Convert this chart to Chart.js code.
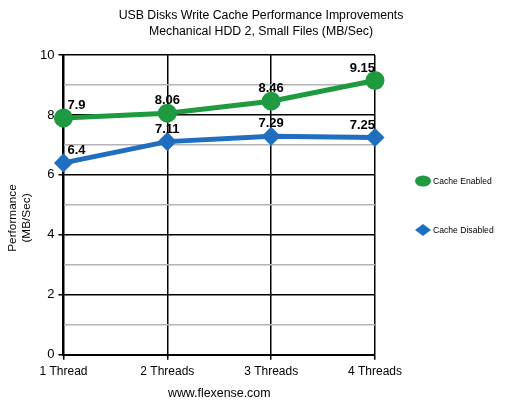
<!DOCTYPE html>
<html>
<head>
<meta charset="utf-8">
<script src="https://cdn.jsdelivr.net/npm/chart.js@4.4.0/dist/chart.umd.min.js"></script>
<style>
  html, body { margin: 0; padding: 0; background: #fff; }
  #wrap { width: 520px; height: 401px; }
</style>
</head>
<body>
<div id="wrap"><canvas id="myChart" width="520" height="401"></canvas></div>
<script>
var categories = ['1 Thread', '2 Threads', '3 Threads', '4 Threads'];
var cacheEnabled = [7.9, 8.06, 8.46, 9.15];
var cacheDisabled = [6.4, 7.11, 7.29, 7.25];
var seriesNames = ['Cache Enabled', 'Cache Disabled'];
var titleLines = ['USB Disks Write Cache Performance Improvements', 'Mechanical HDD 2, Small Files (MB/Sec)'];
var yTitleLines = ['Performance', '(MB/Sec)'];

var green = '#1f9a40';
var blue = '#1f6ec0';
var fontFam = '"Liberation Sans", Arial, sans-serif';

// value labels above each point
var valueLabels = {
    id: 'valueLabels',
    afterDatasetsDraw: function(chart) {
        var ctx = chart.ctx;
        ctx.save();
        ctx.font = 'bold 13px ' + fontFam;
        ctx.fillStyle = '#000';
        ctx.textBaseline = 'bottom';
        chart.data.datasets.forEach(function(ds, i) {
            var meta = chart.getDatasetMeta(i);
            meta.data.forEach(function(pt, j) {
                var last = j === meta.data.length - 1;
                var x = pt.x;
                if (j === 0) { ctx.textAlign = 'left'; x = pt.x + 4; }
                else if (last) { ctx.textAlign = 'right'; x = pt.x; }
                else { ctx.textAlign = 'center'; }
                ctx.fillText(String(ds.data[j]), x, pt.y - 6);
            });
        });
        ctx.restore();
    }
};

// titles and legend drawn by hand so they sit where the original has them
var extras = {
    id: 'extras',
    afterDraw: function(chart) {
        var ctx = chart.ctx;
        ctx.save();
        ctx.fillStyle = '#000';
        ctx.textBaseline = 'middle';
        ctx.textAlign = 'center';
        ctx.font = '12.3px ' + fontFam;
        ctx.fillText(titleLines[0], 261, 16);
        ctx.fillText(titleLines[1], 261, 32);

        ctx.save();
        ctx.translate(13, 218);
        ctx.rotate(-Math.PI / 2);
        ctx.font = '11.8px ' + fontFam;
        ctx.fillText(yTitleLines[0], 0, 0);
        ctx.fillText(yTitleLines[1], 0, 14);
        ctx.restore();

        var ys = [181, 230];
        ctx.font = '8.6px ' + fontFam;
        ctx.textAlign = 'left';
        chart.data.datasets.forEach(function(ds, i) {
            var y = ys[i];
            ctx.fillStyle = ds.borderColor;
            ctx.beginPath();
            if (i === 0) {
                ctx.ellipse(423, y, 8, 5.5, 0, 0, Math.PI * 2);
            } else {
                ctx.moveTo(415, y); ctx.lineTo(423, y - 6); ctx.lineTo(431, y); ctx.lineTo(423, y + 6);
                ctx.closePath();
            }
            ctx.fill();
            ctx.fillStyle = '#000';
            ctx.fillText(ds.label, 433, y + 1);
        });
        ctx.restore();
    }
};

var ctx = document.getElementById('myChart').getContext('2d');
var myChart = new Chart(ctx, {
    type: 'line',
    data: {
        labels: categories,
        datasets: [{
            label: seriesNames[0],
            data: cacheEnabled,
            borderColor: green,
            backgroundColor: green,
            borderWidth: 5,
            pointStyle: 'circle',
            pointRadius: 7,
            pointHoverRadius: 7,
            tension: 0
        }, {
            label: seriesNames[1],
            data: cacheDisabled,
            borderColor: blue,
            backgroundColor: blue,
            borderWidth: 5,
            pointStyle: 'rectRot',
            pointRadius: 6,
            pointHoverRadius: 6,
            tension: 0
        }]
    },
    options: {
        responsive: false,
        animation: false,
        devicePixelRatio: 1,
        layout: { padding: { top: 55, right: 145, left: 36, bottom: 0 } },
        plugins: {
            legend: { display: false },
            tooltip: { enabled: false },
            title: { display: false }
        },
        scales: {
            x: {
                offset: false,
                grid: { color: '#000', lineWidth: 1.5, tickLength: 5, tickColor: '#000' },
                border: { color: '#000', width: 2 },
                ticks: { color: '#000', font: { family: fontFam, size: 12 }, padding: 5, maxRotation: 0 },
                title: {
                    display: true,
                    text: 'www.flexense.com',
                    color: '#000',
                    font: { family: fontFam, size: 12.4 },
                    padding: { top: 2, bottom: 0 }
                }
            },
            y: {
                min: 0,
                max: 10,
                grid: {
                    color: function(c) { return c.tick && c.tick.value % 2 === 0 ? '#000' : '#b4b4b4'; },
                    tickColor: function(c) { return c.tick && c.tick.value % 2 === 0 ? '#000' : 'rgba(0,0,0,0)'; },
                    lineWidth: 1.5,
                    tickLength: 5
                },
                border: { color: '#000', width: 2 },
                ticks: {
                    stepSize: 1,
                    autoSkip: false,
                    color: '#000',
                    padding: 4,
                    font: { family: fontFam, size: 13 },
                    callback: function(v) { return v % 2 === 0 ? v : ''; }
                }
            }
        }
    },
    plugins: [valueLabels, extras]
});
</script>
</body>
</html>
